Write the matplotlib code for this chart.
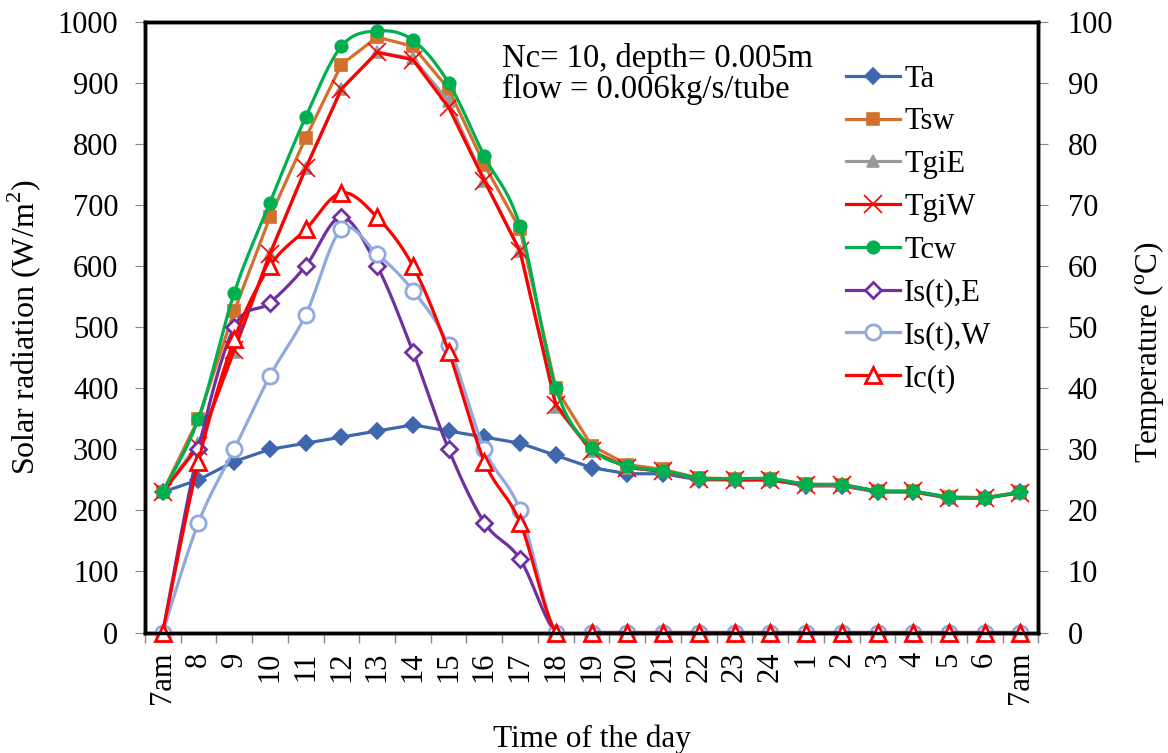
import numpy as np
import matplotlib
matplotlib.use('Agg')
import matplotlib.pyplot as plt
from matplotlib.lines import Line2D

plt.rcParams['font.family'] = ['Liberation Serif', 'DejaVu Serif']
plt.rcParams['mathtext.fontset'] = 'custom'
plt.rcParams['mathtext.rm'] = 'Liberation Serif'

# x categories
hours = ['7am', '8', '9', '10', '11', '12', '13', '14', '15', '16', '17', '18',
         '19', '20', '21', '22', '23', '24', '1', '2', '3', '4', '5', '6', '7am']

# temperatures (deg C)
ta = [23, 25, 28, 30, 31, 32, 33, 34, 33, 32, 31, 29, 27, 26, 26, 25, 25, 25,
      24, 24, 23, 23, 22, 22, 23]
tsw = [23, 35, 52.6, 68, 81, 93, 97.5, 96, 89, 76.6, 66, 40, 30.6, 27.5, 26.7,
       25.3, 25.2, 25.2, 24.3, 24.2, 23.2, 23.1, 22.2, 22.1, 23]
tgie = [23, 31, 46, 62, 76, 89, 95, 94, 87, 74, 62.5, 37, 29.7, 27, 26.4,
        25.2, 25, 25, 24.2, 24.1, 23.1, 23.1, 22.1, 22, 22.9]
tgiw = [23, 30.5, 46.3, 62, 76, 89, 95, 93.8, 86, 74, 62.4, 37.3, 29.7, 27,
        26.4, 25.2, 25, 25, 24.2, 24.2, 23.1, 23.1, 22.1, 22, 22.9]
tcw = [23, 35, 55.6, 70.4, 84.4, 96, 98.5, 97, 90, 78, 66.5, 40, 30.2, 27.3,
       26.5, 25.3, 25.2, 25.2, 24.3, 24.2, 23.2, 23.1, 22.2, 22.1, 23]

# solar radiation (W/m2)
is_e = [0, 300, 500, 540, 600, 680, 600, 460, 300, 180, 120, 0, 0, 0, 0, 0, 0,
        0, 0, 0, 0, 0, 0, 0, 0]
is_w = [0, 180, 300, 420, 520, 660, 620, 560, 470, 300, 200, 0, 0, 0, 0, 0, 0,
        0, 0, 0, 0, 0, 0, 0, 0]
ic = [0, 280, 480, 600, 660, 720, 680, 600, 460, 280, 180, 0, 0, 0, 0, 0, 0,
      0, 0, 0, 0, 0, 0, 0, 0]


def smooth(x, y, n=24):
    # Excel style smoothed line (bezier through the points)
    x = np.asarray(x, float)
    y = np.asarray(y, float)
    px = np.concatenate([[x[0]], x, [x[-1]]])
    py = np.concatenate([[y[0]], y, [y[-1]]])
    t = np.linspace(0, 1, n)[:, None]
    xs, ys = [], []
    for i in range(1, len(x)):
        p0 = np.array([px[i], py[i]])
        p3 = np.array([px[i + 1], py[i + 1]])
        c1 = p0 + (p3 - np.array([px[i - 1], py[i - 1]])) / 6
        c2 = p3 - (np.array([px[i + 2], py[i + 2]]) - p0) / 6
        pts = ((1 - t) ** 3 * p0 + 3 * (1 - t) ** 2 * t * c1
               + 3 * (1 - t) * t ** 2 * c2 + t ** 3 * p3)
        xs.append(pts[:, 0])
        ys.append(pts[:, 1])
    return np.concatenate(xs), np.concatenate(ys)


x = np.arange(len(hours))
lw = 2.3
fs = 22

fig = plt.figure(figsize=(11.68, 7.53), dpi=100)
ax = fig.add_axes([0.124, 0.16, 0.765, 0.811])
ax2 = ax.twinx()
ax.set_zorder(ax2.get_zorder() + 1)
ax.patch.set_visible(False)

# temperature series (right axis)
temp_series = [
    (ta, 'Ta', '#3E67AE', 'D', 8.5, False),
    (tsw, 'Tsw', '#D2712E', 's', 8, False),
    (tgie, 'TgiE', '#999999', '^', 9, False),
    (tgiw, 'TgiW', '#FF0000', 'x', 13, False),
    (tcw, 'Tcw', '#00B050', 'o', 9, True),
]
handles = []
for vals, name, col, mk, ms, sm in temp_series:
    if sm:
        sx, sy = smooth(x, vals)
        ax2.plot(sx, sy, color=col, lw=lw)
    else:
        ax2.plot(x, vals, color=col, lw=lw)
    ax2.plot(x, vals, ls='none', marker=mk, ms=ms, color=col, mfc=col,
             mec=col, mew=1.2)
    handles.append(Line2D([], [], color=col, lw=lw, marker=mk, ms=ms,
                          mfc=col, mec=col, mew=1.2, label=name))

# solar radiation series (left axis)
rad_series = [
    (is_e, 'Is(t),E', '#7030A0', 'D', 8.5),
    (is_w, 'Is(t),W', '#8FAADC', 'o', 11),
    (ic, 'Ic(t)', '#FF0000', '^', 11),
]
for vals, name, col, mk, ms in rad_series:
    sx, sy = smooth(x, vals)
    ax.plot(sx, sy, color=col, lw=lw)
    ax.plot(x, vals, ls='none', marker=mk, ms=ms, color=col, mfc='white',
            mec=col, mew=2, clip_on=False)
    handles.append(Line2D([], [], color=col, lw=lw, marker=mk, ms=ms,
                          mfc='white', mec=col, mew=2, label=name))

ax.set_xlim(-0.5, len(hours) - 0.5)
ax.set_ylim(0, 1000)
ax2.set_ylim(0, 100)
ax.set_yticks(np.arange(0, 1001, 100))
ax2.set_yticks(np.arange(0, 101, 10))
ax.set_xticks(x)
ax.set_xticklabels(hours, rotation=90)
ax.set_xticks(np.arange(-0.5, len(hours), 1), minor=True)
ax.tick_params(axis='x', which='major', length=0, labelsize=fs, pad=14)
ax.tick_params(axis='x', which='minor', length=7, width=1, color='#888888')
ax.tick_params(axis='y', labelsize=fs, length=7, color='#888888', pad=12)
ax2.tick_params(axis='y', labelsize=fs, length=7, color='#888888', pad=14)

for a in (ax, ax2):
    for s in a.spines.values():
        s.set_linewidth(2.5)
        s.set_color('black')

ax.set_ylabel('Solar radiation (W/m$^2$)', fontsize=23)
ax.yaxis.set_label_coords(-0.114, 0.5)
ax2.set_ylabel('Temperature ($^{\\rm o}$C)', fontsize=22.5)
ax2.yaxis.set_label_coords(1.105, 0.46)
ax.set_xlabel('Time of the day', fontsize=22.5)
ax.xaxis.set_label_coords(0.5, -0.15)

ax.text(9.5, 966, 'Nc= 10, depth= 0.005m\nflow = 0.006kg/s/tube',
        fontsize=23.5, va='top', linespacing=1.0)

ax.legend(handles=handles, loc='upper left', bbox_to_anchor=(0.785, 0.93),
          frameon=False, fontsize=fs, handlelength=1.75, labelspacing=0.45,
          handletextpad=0.15, borderpad=0, borderaxespad=0)

fig.savefig('out.png', dpi=100)
